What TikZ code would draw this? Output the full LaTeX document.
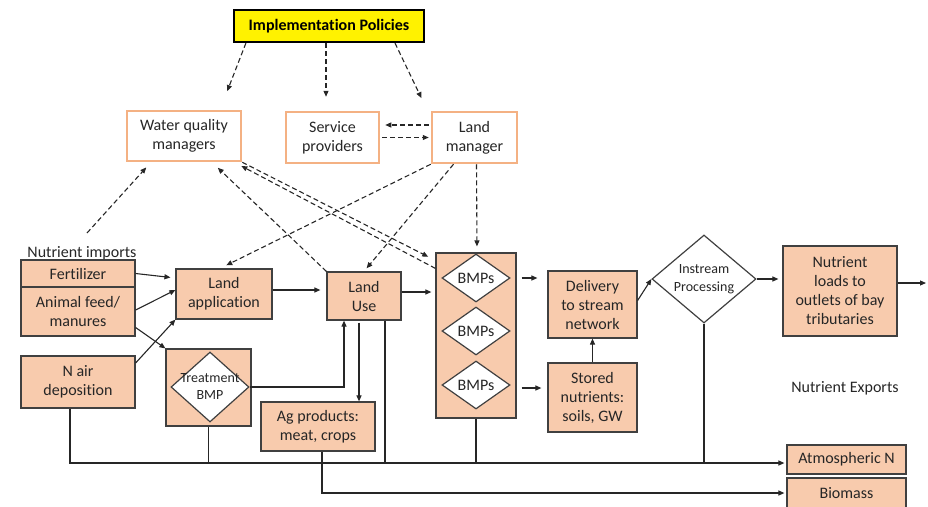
\documentclass[tikz,border=0pt]{standalone}
\usepackage{fontspec}
\setmainfont[Ligatures=NoCommon]{Carlito}
\usetikzlibrary{shapes.geometric,arrows.meta,positioning,calc}

\definecolor{boxfill}{RGB}{248,203,173}
\definecolor{mgrline}{RGB}{244,177,131}
\definecolor{textgray}{RGB}{38,38,38}
\definecolor{edgegray}{RGB}{64,64,64}

\tikzset{
  mgr/.style={draw=mgrline, line width=2.5pt, fill=white, align=center, inner sep=2pt, text=textgray},
  flow/.style={draw=edgegray, line width=1.2pt, fill=boxfill, align=center, inner sep=2pt, text=textgray},
  bmp/.style={diamond, draw=edgegray, line width=1.2pt, fill=white, align=center, inner sep=0pt, text=textgray},
  arr/.style={-{Triangle[length=6pt,width=5pt]}, line width=1.1pt, draw=black!85},
  darr/.style={arr, dash pattern=on 5pt off 3pt},
}

\begin{document}
\begin{tikzpicture}[x=1pt, y=-1pt, font=\fontsize{16}{19}\selectfont]
    \useasboundingbox (0,0) rectangle (928,506);

    % policy and managers
    \node[draw, line width=2.2pt, fill=yellow, minimum width=190pt, minimum height=32pt,
      font=\fontsize{16}{19}\selectfont\bfseries] (pol) at (329,26) {Implementation Policies};
    \node[mgr, minimum width=114pt, minimum height=50pt] (wqm) at (184,136) {Water quality\\managers};
    \node[mgr, minimum width=93pt, minimum height=51pt] (sp) at (332.5,137.5) {Service\\providers};
    \node[mgr, minimum width=85pt, minimum height=51pt] (lm) at (474.5,137.5) {Land\\manager};

    % imports
    \node[text=textgray] (imports) at (82,253) {Nutrient imports};
    \node[flow, minimum width=114pt, minimum height=27pt] (fert) at (78,273.5) {Fertilizer};
    \node[flow, minimum width=114pt, minimum height=49pt] (feed) at (78,311.5) {Animal feed/\\manures};
    \node[flow, minimum width=114pt, minimum height=52pt] (nair) at (78,382) {N air\\deposition};

    % land
    \node[flow, minimum width=96pt, minimum height=50pt] (landapp) at (224,294) {Land\\application};
    \node[flow, minimum width=74pt, minimum height=48pt] (landuse) at (364,296) {Land\\Use};
    \node[flow, minimum width=85pt, minimum height=77pt] (treat) at (208.5,387.5) {};
    \node[bmp, minimum width=78pt, minimum height=70pt, inner sep=-14pt,
      font=\fontsize{14}{17}\selectfont] (treatd) at (210,387) {Treatment\\BMP};
    \node[flow, minimum width=114pt, minimum height=49pt] (agprod) at (318,426.5) {Ag products:\\meat, crops};

    % BMP column
    \node[flow, minimum width=80pt, minimum height=165pt] (bmpcol) at (476,335.5) {};
    \node[bmp, minimum width=68pt, minimum height=48pt] (bmp1) at (476,278) {BMPs};
    \node[bmp, minimum width=68pt, minimum height=48pt] (bmp2) at (476,331) {BMPs};
    \node[bmp, minimum width=68pt, minimum height=48pt] (bmp3) at (476,385) {BMPs};

    % stream side
    \node[flow, minimum width=89pt, minimum height=67pt] (deliv) at (592.5,304.5) {Delivery\\to stream\\network};
    \node[flow, minimum width=89pt, minimum height=69pt] (stored) at (592.5,397.5) {Stored\\nutrients:\\soils, GW};
    \node[bmp, minimum width=104pt, minimum height=88pt, inner sep=-6pt,
      font=\fontsize{14}{18}\selectfont] (instream) at (704,279) {Instream\\Processing};
    \node[flow, minimum width=114pt, minimum height=90pt] (loads) at (840,291) {Nutrient\\loads to\\outlets of bay\\tributaries};

    % exports
    \node[text=textgray] (exports) at (845,388) {Nutrient Exports};
    \node[flow, minimum width=119pt, minimum height=29pt] (atmN) at (846.5,459.5) {Atmospheric N};
    \node[flow, minimum width=119pt, minimum height=30pt] (biomass) at (846.5,493) {Biomass};

    \coordinate (impt) at (87,233);
    \coordinate (bay) at (926,283);
    \coordinate (bus) at ([yshift=-3.5pt]atmN.west);

    % dashed links
    \draw[darr, shorten >=20pt] ([xshift=13pt]pol.south west) -- ([xshift=36pt]wqm.north);
    \draw[darr, shorten >=14pt] ([xshift=-3pt]pol.south) -- ([xshift=-6.5pt]sp.north);
    \draw[darr, shorten >=14pt] ([xshift=66pt]pol.south) -- ([xshift=-47pt]lm.north);
    \draw[darr, shorten <=2pt, shorten >=5pt] ([yshift=12.5pt]lm.west) -- ([yshift=12.5pt]sp.east);
    \draw[darr, shorten >=2pt] ([xshift=2pt]sp.east) -- (lm.west);
    \draw[darr, shorten >=7pt] (impt) -- ([xshift=-33pt]wqm.south);
    \draw[darr, shorten >=8pt] (landuse.north west) -- ([xshift=28pt]wqm.south);
    \draw[darr, shorten >=8pt] (wqm.south east) -- ([yshift=-8pt]bmpcol.north west);
    \draw[darr, shorten >=8pt] ([yshift=-16pt]bmpcol.north west) -- ([xshift=-8pt]wqm.south east);
    \draw[darr, shorten >=7pt] (lm.south west) -- ([xshift=-4pt]landapp.north);
    \draw[darr, shorten >=4pt] ([xshift=-21pt]lm.south) -- (landuse.north);
    \draw[darr, shorten >=6pt] ([xshift=2pt]lm.south) -- ([xshift=1pt]bmpcol.north);

    % flows
    \draw[arr, shorten >=5pt] (fert.east) -- ([yshift=16pt]landapp.west);
    \draw[arr] ([yshift=1.5pt]feed.east) -- ([yshift=4pt]landapp.west);
    \draw[arr] ([yshift=-16pt]feed.east) -- (treat.north west);
    \draw[arr] ([yshift=19pt]nair.east) -- (landapp.south west);
    \draw[arr, shorten >=6pt] ([yshift=4pt]landapp.east) -- ([yshift=6pt]landuse.west);
    \draw[arr, shorten >=4pt] ([yshift=4pt]landuse.east) -- ([yshift=4pt]landuse.east -| bmpcol.west);
    \draw[arr] (treatd.east) -| ([xshift=-20pt]landuse.south);
    \draw[arr, shorten <=2pt] ([xshift=-5pt]landuse.south) -- ([xshift=-5pt]landuse.south |- agprod.north);
    \draw[arr, shorten <=5pt, shorten >=10pt] (bmp1.east -| bmpcol.east) -- (bmp1.east -| deliv.west);
    \draw[arr, shorten <=5pt, shorten >=6pt] ([yshift=-3pt]bmp3.east -| bmpcol.east) -- ([yshift=-3pt]bmp3.east -| stored.west);
    \draw[arr] (stored.north) -- (deliv.south);
    \draw[arr] ([yshift=4pt]deliv.east) -- (instream.west);
    \draw[arr, shorten >=4pt] (instream.east) -- (instream.east -| loads.west);
    \draw[arr] ([yshift=8pt]loads.east) -- (bay);

    % exports
    \draw[arr, shorten >=2pt] ([xshift=-8pt]nair.south) |- (bus);
    \draw[line width=1.1pt, draw=black!85] (treat.south) -- (treat.south |- bus);
    \draw[line width=1.1pt, draw=black!85] ([xshift=21pt]landuse.south) -- ([xshift=21pt]landuse.south |- bus);
    \draw[line width=1.1pt, draw=black!85] (bmpcol.south) -- (bmpcol.south |- bus);
    \draw[line width=1.1pt, draw=black!85] (instream.south) -- (instream.south |- bus);
    \draw[arr, shorten >=2pt] ([xshift=4pt]agprod.south) |- (biomass.west);
\end{tikzpicture}
\end{document}
